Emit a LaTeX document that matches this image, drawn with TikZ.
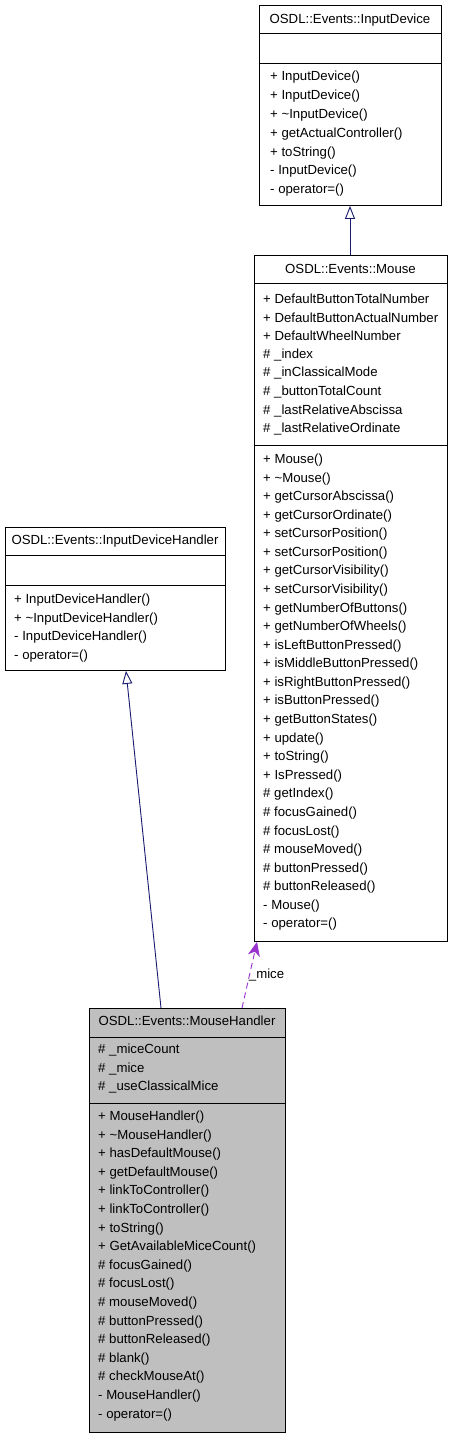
\documentclass[tikz,border=0pt]{standalone}
\usepackage{fontspec}
\setmainfont{Liberation Sans}
\usetikzlibrary{arrows.meta}
\definecolor{inhcol}{HTML}{191970}
\definecolor{usecol}{HTML}{9A32CD}
\definecolor{selfill}{HTML}{BFBFBF}
\begin{document}
\begin{tikzpicture}[x=1pt,y=-1pt,
  cls/.style={draw=black, line width=0.9pt, fill=white, inner sep=0, anchor=north west},
  selcls/.style={cls, fill=selfill},
  divl/.style={draw=black, line width=0.9pt},
  txt/.style={anchor=west, inner sep=0, font=\fontsize{13.2}{15}\selectfont},
  ttl/.style={anchor=center, inner sep=0, font=\fontsize{13.2}{15}\selectfont},
  inh/.style={draw=inhcol, line width=0.9pt, -{Triangle[open, width=10pt, length=13pt, line width=0.9pt]}},
  usearr/.style={draw=usecol, dashed, dash pattern=on 6pt off 4pt, line width=0.9pt, -{Stealth[length=14pt, width=12pt, inset=4pt]}}]
\fill[white] (0,0) rectangle (453,1437);
\useasboundingbox (0,0) rectangle (453,1437);

% InputDevice
\node[cls, minimum width=182pt, minimum height=200pt] (id) at (259,5) {};
\draw[divl] ([yshift=-28pt]id.north west) -- ([yshift=-28pt]id.north east);
\draw[divl] ([yshift=-58pt]id.north west) -- ([yshift=-58pt]id.north east);
\node[ttl] (idt) at (350,20) {OSDL::Events::InputDevice};
\foreach \t [count=\i from 0] in {+ InputDevice(), + InputDevice(), + \textasciitilde InputDevice(), + getActualController(), + toString(), - InputDevice(), - operator=()}
  \node[txt] (idm\i) at (270, 77+18.9*\i) {\t};

% Mouse
\node[cls, minimum width=193pt, minimum height=686pt] (mouse) at (254,255) {};
\draw[divl] ([yshift=-28pt]mouse.north west) -- ([yshift=-28pt]mouse.north east);
\draw[divl] ([yshift=-190pt]mouse.north west) -- ([yshift=-190pt]mouse.north east);
\node[ttl] (mt) at (350.5,269) {OSDL::Events::Mouse};
\foreach \t [count=\i from 0] in {+ DefaultButtonTotalNumber, + DefaultButtonActualNumber, + DefaultWheelNumber, \# \_index, \# \_inClassicalMode, \# \_buttonTotalCount, \# \_lastRelativeAbscissa, \# \_lastRelativeOrdinate}
  \node[txt] (ma\i) at (263, 299+18.6*\i) {\t};
\foreach \t [count=\i from 0] in {+ Mouse(), + \textasciitilde Mouse(), + getCursorAbscissa(), + getCursorOrdinate(), + setCursorPosition(), + setCursorPosition(), + getCursorVisibility(), + setCursorVisibility(), + getNumberOfButtons(), + getNumberOfWheels(), + isLeftButtonPressed(), + isMiddleButtonPressed(), + isRightButtonPressed(), + isButtonPressed(), + getButtonStates(), + update(), + toString(), + IsPressed(), \# getIndex(), \# focusGained(), \# focusLost(), \# mouseMoved(), \# buttonPressed(), \# buttonReleased(), - Mouse(), - operator=()}
  \node[txt] (mm\i) at (263, 460+18.58*\i) {\t};

% InputDeviceHandler
\node[cls, minimum width=220pt, minimum height=143pt] (idh) at (5,527) {};
\draw[divl] ([yshift=-28pt]idh.north west) -- ([yshift=-28pt]idh.north east);
\draw[divl] ([yshift=-58pt]idh.north west) -- ([yshift=-58pt]idh.north east);
\node[ttl] (idht) at (115,541) {OSDL::Events::InputDeviceHandler};
\foreach \t [count=\i from 0] in {+ InputDeviceHandler(), + \textasciitilde InputDeviceHandler(), - InputDeviceHandler(), - operator=()}
  \node[txt] (idhm\i) at (14, 600+18.6*\i) {\t};

% MouseHandler
\node[selcls, minimum width=196pt, minimum height=424pt] (mh) at (89,1008) {};
\draw[divl] ([yshift=-29pt]mh.north west) -- ([yshift=-29pt]mh.north east);
\draw[divl] ([yshift=-95pt]mh.north west) -- ([yshift=-95pt]mh.north east);
\node[ttl] (mht) at (187,1021) {OSDL::Events::MouseHandler};
\foreach \t [count=\i from 0] in {\# \_miceCount, \# \_mice, \# \_useClassicalMice}
  \node[txt] (mha\i) at (98, 1050+18.6*\i) {\t};
\foreach \t [count=\i from 0] in {+ MouseHandler(), + \textasciitilde MouseHandler(), + hasDefaultMouse(), + getDefaultMouse(), + linkToController(), + linkToController(), + toString(), + GetAvailableMiceCount(), \# focusGained(), \# focusLost(), \# mouseMoved(), \# buttonPressed(), \# buttonReleased(), \# blank(), \# checkMouseAt(), - MouseHandler(), - operator=()}
  \node[txt] (mhm\i) at (98, 1117+18.6*\i) {\t};

% connectors
\draw[inh] ([xshift=96pt]mouse.north west) -- ([xshift=91pt]id.south west);
\draw[inh] ([xshift=72pt]mh.north west) -- ([xshift=121pt]idh.south west);
\draw[usearr] ([xshift=153pt]mh.north west) -- ([xshift=3pt]mouse.south west)
  node[pos=0.5, right, inner sep=1pt, font=\fontsize{13.2}{15}\selectfont, xshift=-2pt] (lbl) {\_mice};
\end{tikzpicture}
\end{document}
